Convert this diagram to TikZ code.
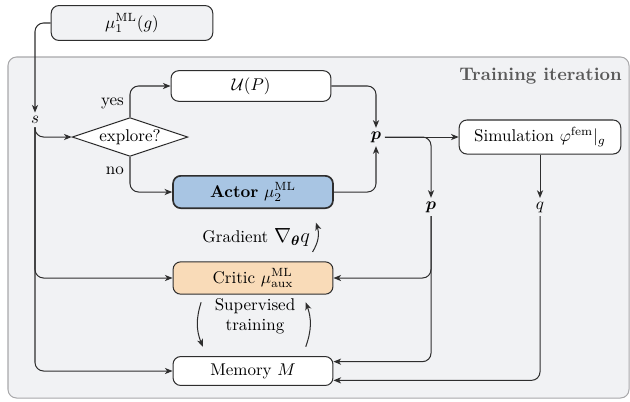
\documentclass[tikz,border=0pt]{standalone}
\usepackage{amsmath}
\usepackage{bm}
\usepackage{tikz}
\usetikzlibrary{arrows.meta, positioning, shapes.geometric}
\definecolor{TI-bg}{HTML}{F1F2F4}
\definecolor{TI-frame}{HTML}{A8A8AA}
\definecolor{TI-line}{HTML}{2E2E2E}
\definecolor{TI-title}{HTML}{5A5A5A}
\definecolor{TI-actor}{HTML}{A8C5E3}
\definecolor{TI-critic}{HTML}{F9DBB8}

\begin{document}
\begin{tikzpicture}[x=0.588pt, y=-0.588pt,
    blk/.style={draw=TI-line, fill=white, rounded corners=4.5pt, align=center, minimum width=94pt, minimum height=19pt, line width=0.6pt},
    flow/.style={-{Stealth[length=4.5pt, width=3.6pt, inset=1.3pt]}, draw=TI-line, line width=0.6pt, rounded corners=5pt},
    var/.style={inner sep=2pt}]
  \useasboundingbox (0,0) rectangle (630,401);
  \draw[fill=TI-bg, draw=TI-frame, line width=0.6pt, rounded corners=5pt] (8,57) rectangle (629,398);
  \node[text=TI-title, font=\fontsize{10.7}{13}\selectfont\bfseries, anchor=east, inner sep=0pt] (Title) at (622,76) {Training iteration};

  \node[blk, fill=TI-bg, minimum width=95pt, minimum height=20.5pt] (MuOne) at (132,23) {$\mu_1^{\mathrm{ML}}(g)$};
  \node[var] (S) at (35,120) {$s$};
  \node[blk, minimum height=18pt] (Unif) at (251,86) {$\mathcal{U}(P)$};
  \node[draw=TI-line, fill=white, diamond, aspect=2.9, inner sep=0.5pt, minimum width=68pt, line width=0.6pt] (Explore) at (130,137) {explore?};
  \node[blk, fill=TI-actor, line width=1pt] (Actor) at (253,192) {\textbf{Actor} $\mu_2^{\mathrm{ML}}$};
  \node[var] (POne) at (376,137) {$\bm{p}$};
  \node[blk, minimum width=95pt, minimum height=20pt] (Sim) at (540,137) {Simulation $\varphi^{\mathrm{fem}}|_g$};
  \node[var] (PTwo) at (431,207) {$\bm{p}$};
  \node[var] (Q) at (540,207) {$q$};
  \node[blk, fill=TI-critic] (Critic) at (253,278) {Critic $\mu_{\mathrm{aux}}^{\mathrm{ML}}$};
  \node[blk, minimum height=17pt] (Mem) at (253,371) {Memory $M$};
  \node[align=center, inner sep=0pt] (SupTrain) at (255,316) {Supervised\\training};

  \draw[flow] (MuOne.west) -| (S.north);
  \draw[flow] (S.south) |- (Explore.west);
  \draw[flow] (S.south) |- (Critic.west);
  \draw[flow] (S.south) |- (Mem.west);
  \draw[flow] (Explore.north) |- node[pos=0.22, left]{yes} (Unif.west);
  \draw[flow] (Explore.south) |- node[pos=0.2, left]{no} (Actor.west);
  \draw[flow] (Unif.east) -| (POne.north);
  \draw[flow] (Actor.east) -| (POne.south);
  \draw[flow] (POne.east) -- (Sim.west);
  \draw[flow] (POne.east) -| (PTwo.north);
  \draw[flow] (Sim.south) -- (Q.north);
  \draw[flow] (PTwo.south) |- (Critic.east);
  \draw[flow] (PTwo.south) |- ([yshift=5.5pt]Mem.east);
  \draw[flow] (Q.south) |- ([yshift=-5.5pt]Mem.east);

  \draw[flow] ([xshift=35pt, yshift=5.5pt]Critic.north) to[bend right=25]
    node[left, xshift=-1pt]{Gradient {\large$\nabla_{\bm{\theta}}q$}} ([xshift=37pt, yshift=-8pt]Actor.south);
  \draw[flow] ([xshift=-30.5pt, yshift=-4.5pt]Critic.south) to[bend right=20] ([xshift=-29.5pt, yshift=5.5pt]Mem.north);
  \draw[flow] ([xshift=31pt, yshift=5.5pt]Mem.north) to[bend right=20] ([xshift=31pt, yshift=-4.5pt]Critic.south);
\end{tikzpicture}
\end{document}
